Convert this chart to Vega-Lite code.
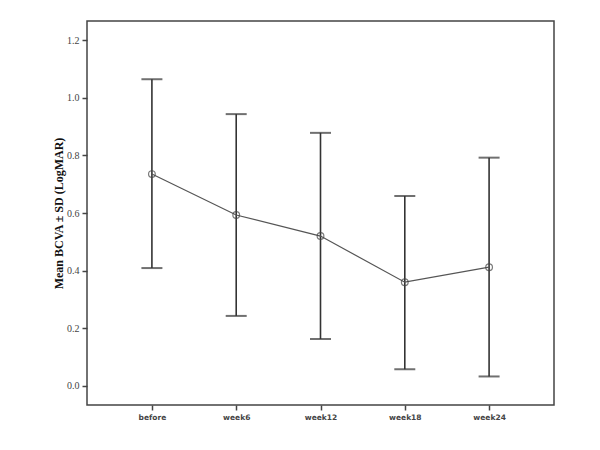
{
  "$schema": "https://vega.github.io/schema/vega-lite/v6.json",
  "width": 467,
  "height": 384,
  "autosize": {"type": "none"},
  "padding": {"left": 87, "top": 21, "right": 46, "bottom": 45},
  "background": "white",
  "config": {
    "view": {"stroke": "#444444", "strokeWidth": 1.5},
    "axis": {"grid": false, "domain": false, "tickColor": "#444444", "tickSize": 5, "tickWidth": 1.5}
  },
  "data": {
    "values": [
      {"time": "before", "mean": 0.735, "lower": 0.409, "upper": 1.064},
      {"time": "week6", "mean": 0.593, "lower": 0.243, "upper": 0.943},
      {"time": "week12", "mean": 0.52, "lower": 0.163, "upper": 0.878},
      {"time": "week18", "mean": 0.36, "lower": 0.058, "upper": 0.659},
      {"time": "week24", "mean": 0.412, "lower": 0.033, "upper": 0.792}
    ]
  },
  "encoding": {
    "x": {
      "field": "time",
      "type": "nominal",
      "sort": null,
      "scale": {"type": "point", "padding": 0.77},
      "axis": {"title": null, "labelAngle": 0, "labelFont": "DejaVu Sans", "labelFontWeight": "bold", "labelFontSize": 7.5, "labelColor": "#444444", "labelPadding": 3}
    }
  },
  "layer": [
    {
      "mark": {"type": "rule", "color": "#333333", "strokeWidth": 1.6},
      "encoding": {
        "y": {
          "field": "lower",
          "type": "quantitative",
          "scale": {"domain": [-0.066, 1.266], "nice": false, "zero": false},
          "axis": {
            "title": "Mean BCVA ± SD (LogMAR)",
            "titleFont": "Liberation Serif",
            "titleFontWeight": "bold",
            "titleFontSize": 12,
            "titleColor": "#111111",
            "titlePadding": 1,
            "values": [0, 0.2, 0.4, 0.6, 0.8, 1.0, 1.2],
            "format": ".1f",
            "labelFont": "Liberation Serif",
            "labelFontSize": 10,
            "labelColor": "#444444",
            "labelPadding": 3
          }
        },
        "y2": {"field": "upper"}
      }
    },
    {
      "mark": {"type": "tick", "color": "#333333", "thickness": 2, "size": 21, "orient": "horizontal"},
      "encoding": {"y": {"field": "upper", "type": "quantitative"}}
    },
    {
      "mark": {"type": "tick", "color": "#333333", "thickness": 2, "size": 21, "orient": "horizontal"},
      "encoding": {"y": {"field": "lower", "type": "quantitative"}}
    },
    {
      "mark": {"type": "line", "color": "#555555", "strokeWidth": 1.2},
      "encoding": {"y": {"field": "mean", "type": "quantitative"}}
    },
    {
      "mark": {"type": "point", "shape": "circle", "filled": false, "color": "#444444", "size": 45, "strokeWidth": 1.2},
      "encoding": {"y": {"field": "mean", "type": "quantitative"}}
    }
  ]
}
